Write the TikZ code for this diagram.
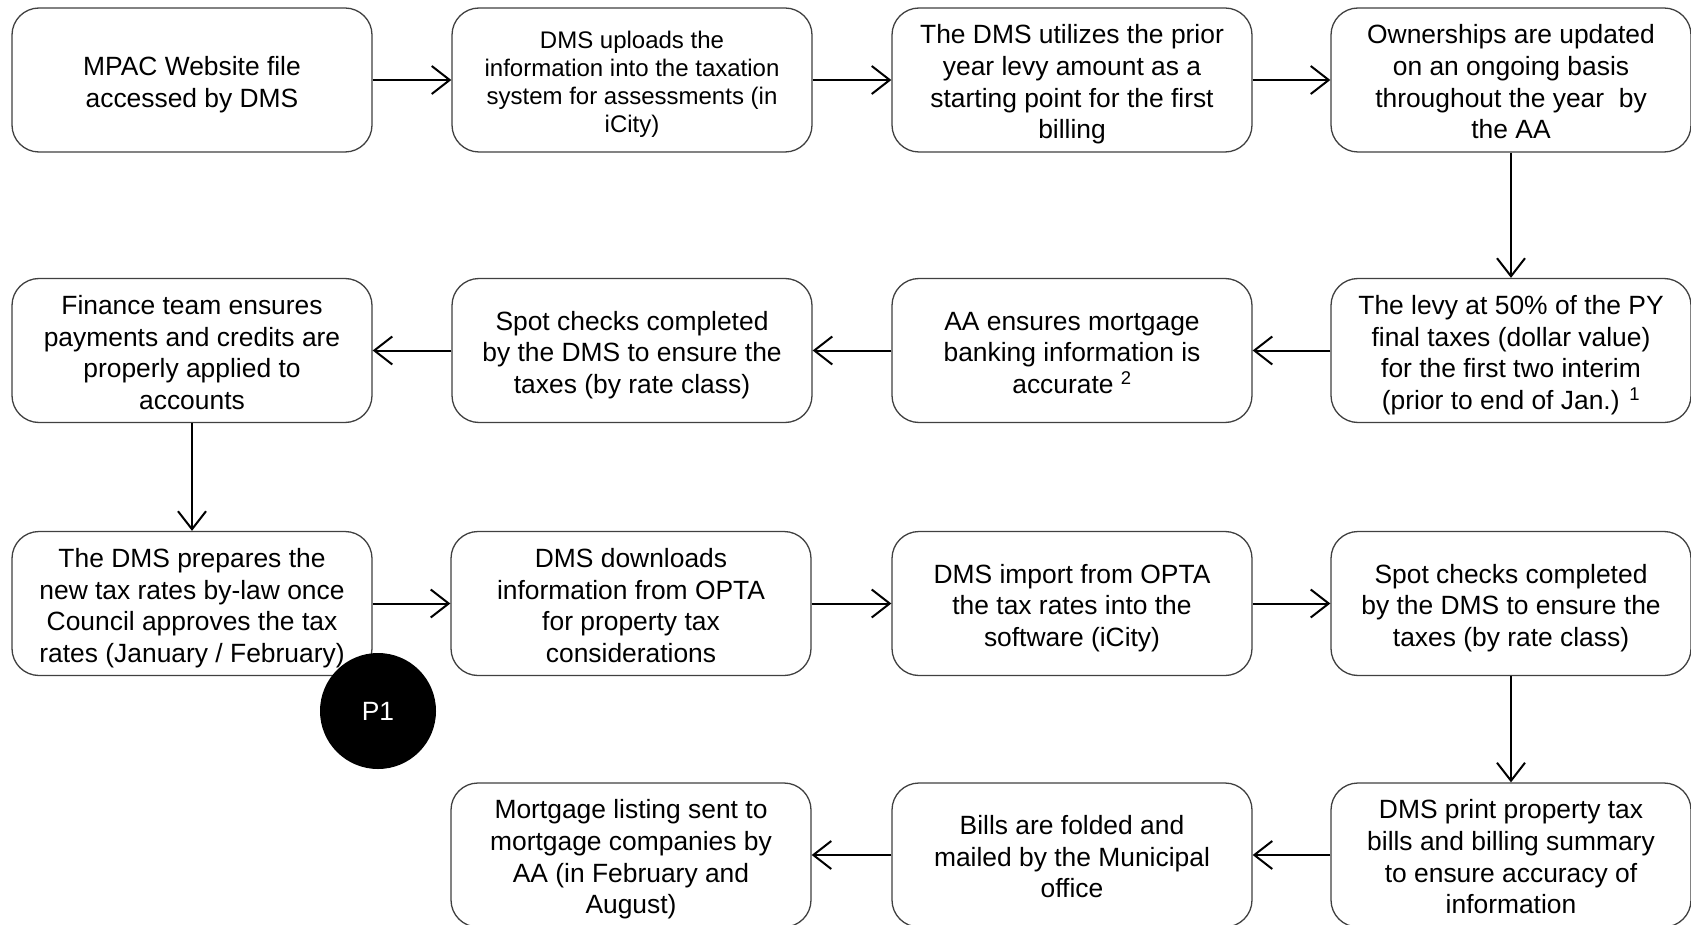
\documentclass[tikz,border=0pt]{standalone}
\usepackage{fontspec}
\setmainfont{Liberation Sans}
\usetikzlibrary{arrows.meta}
\newcommand{\boxtext}[1]{\raisebox{-5pt}[\height][\depth]{\begin{tabular}{@{}c@{}}#1\end{tabular}}}
\tikzset{
  box/.style={draw=black!75, line width=1.3pt, rounded corners=27pt, fill=white,
    minimum width=360pt, minimum height=144pt, inner sep=0pt, align=center,
    font=\fontsize{26.4pt}{31.6pt}\selectfont},
  smallbox/.style={box, font=\fontsize{24pt}{28pt}\selectfont},
  arr/.style={line width=2pt, -{Straight Barb[length=18pt, width=28pt, line width=2pt]}},
  badge/.style={circle, fill=black, minimum size=116pt, inner sep=0pt, text=white,
    font=\fontsize{26.4pt}{31.6pt}\selectfont}
}
\begin{document}
\begin{tikzpicture}[x=1pt, y=-1pt]
\useasboundingbox (0,0) rectangle (1691,925);
% row 1
\node[box] (a1) at (192,80) {\boxtext{MPAC Website file\\accessed by DMS}};
\node[smallbox] (a2) at (632,80) {\boxtext{DMS uploads the\\information into the taxation\\system for assessments (in\\iCity)}};
\node[box] (a3) at (1072,80) {\boxtext{The DMS utilizes the prior\\year levy amount as a\\starting point for the first\\billing}};
\node[box] (a4) at (1511,80) {\boxtext{Ownerships are updated\\on an ongoing basis\\throughout the year\ \ by\\the AA}};
% row 2
\node[box] (b4) at (1511,350.5) {\boxtext{The levy at 50\% of the PY\\final taxes (dollar value)\\for the first two interim\\(prior to end of Jan.) \textsuperscript{1}}};
\node[box] (b3) at (1072,350.5) {\boxtext{AA ensures mortgage\\banking information is\\accurate \textsuperscript{2}}};
\node[box] (b2) at (632,350.5) {\boxtext{Spot checks completed\\by the DMS to ensure the\\taxes (by rate class)}};
\node[box] (b1) at (192,350.5) {\boxtext{Finance team ensures\\payments and credits are\\properly applied to\\accounts}};
% row 3
\node[box] (c1) at (192,603.5) {\boxtext{The DMS prepares the\\new tax rates by-law once\\Council approves the tax\\rates (January / February)}};
\node[box] (c2) at (631,603.5) {\boxtext{DMS downloads\\information from OPTA\\for property tax\\considerations}};
\node[box] (c3) at (1072,603.5) {\boxtext{DMS import from OPTA\\the tax rates into the\\software (iCity)}};
\node[box] (c4) at (1511,603.5) {\boxtext{Spot checks completed\\by the DMS to ensure the\\taxes (by rate class)}};
% row 4
\node[box] (d4) at (1511,855) {\boxtext{DMS print property tax\\bills and billing summary\\to ensure accuracy of\\information}};
\node[box] (d3) at (1072,855) {\boxtext{Bills are folded and\\mailed by the Municipal\\office}};
\node[box] (d2) at (631,855) {\boxtext{Mortgage listing sent to\\mortgage companies by\\AA (in February and\\August)}};
% badge
\node[badge] (p1) at (378,711) {P1};
% connectors
\draw[arr] (a1) -- (a2);
\draw[arr] (a2) -- (a3);
\draw[arr] (a3) -- (a4);
\draw[arr] (a4) -- (b4);
\draw[arr] (b4) -- (b3);
\draw[arr] (b3) -- (b2);
\draw[arr] (b2) -- (b1);
\draw[arr] (b1) -- (c1);
\draw[arr] (c1) -- (c2);
\draw[arr] (c2) -- (c3);
\draw[arr] (c3) -- (c4);
\draw[arr] (c4) -- (d4);
\draw[arr] (d4) -- (d3);
\draw[arr] (d3) -- (d2);
\end{tikzpicture}
\end{document}
